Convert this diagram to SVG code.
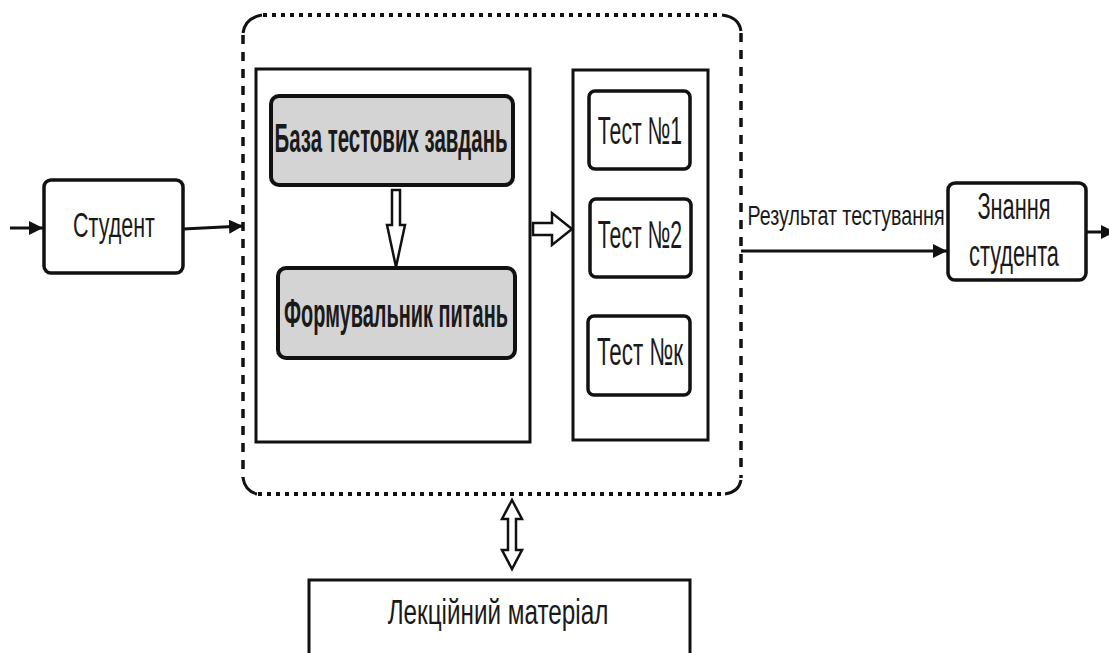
<svg xmlns="http://www.w3.org/2000/svg" width="1109" height="653" viewBox="0 0 1109 653">
<style>
.box{fill:#fff;stroke:#111;stroke-width:3}
.gbox{fill:#d4d4d4;stroke:#111;stroke-width:4}
.rbox{fill:#fff;stroke:#111;stroke-width:3.5}
.t{font-family:"Liberation Sans",Arial,sans-serif;fill:#1a1a1a;text-anchor:middle}
.b{font-weight:bold}
.ln{stroke:#111;stroke-width:3;fill:none}
.hollow{fill:#fff;stroke:#111;stroke-width:2.5;stroke-linejoin:miter}
.dot{stroke:#111;stroke-width:4;fill:none;stroke-dasharray:4 5}
.dash{stroke:#111;stroke-width:3.5;fill:none;stroke-dasharray:9 8}
</style>
<defs>
<marker id="ah" viewBox="0 0 10 10" refX="10" refY="5" markerWidth="14" markerHeight="14" markerUnits="userSpaceOnUse" orient="auto">
<path d="M0,0 L10,5 L0,10 z" fill="#111"/>
</marker>
</defs>

<g id="system-boundary">
<path class="dot" d="M263,15 H722"/>
<path class="dot" d="M258,494 H724"/>
<path class="dash" d="M243,35 V478"/>
<path class="dash" d="M741,33 V478"/>
<path class="ln" d="M243,33 Q245,18 262,15"/>
<path class="ln" d="M722,15 Q739,17 741,31"/>
<path class="ln" d="M243,478 Q245,491 257,494"/>
<path class="ln" d="M741,480 Q739,492 725,494"/>
</g>

<g id="generator-panel">
<rect class="box" x="256" y="69" width="274" height="373"/>
</g>
<g id="tests-panel">
<rect class="box" x="573" y="70" width="135" height="370"/>
</g>

<g id="student">
<rect class="rbox" x="44" y="180" width="139" height="93" rx="7"/>
<text class="t" transform="translate(114,237) scale(0.62,1)" font-size="35" textLength="132" lengthAdjust="spacingAndGlyphs">Студент</text>
</g>

<g id="task-base">
<rect class="gbox" x="271" y="96" width="242" height="89" rx="8"/>
<text class="t b" transform="translate(391,152) scale(0.62,1)" font-size="40" textLength="376" lengthAdjust="spacingAndGlyphs">База тестових завдань</text>
</g>

<g id="question-former">
<rect class="gbox" x="278" y="268" width="237" height="90" rx="8"/>
<text class="t b" transform="translate(396,327) scale(0.62,1)" font-size="40" textLength="361" lengthAdjust="spacingAndGlyphs">Формувальник питань</text>
</g>

<g id="test1">
<rect class="rbox" x="589" y="91" width="101" height="78" rx="6"/>
<text class="t" transform="translate(640,144) scale(0.62,1)" font-size="39" textLength="136" lengthAdjust="spacingAndGlyphs">Тест №1</text>
</g>
<g id="test2">
<rect class="rbox" x="590" y="199" width="101" height="78" rx="6"/>
<text class="t" transform="translate(640,248) scale(0.62,1)" font-size="39" textLength="136" lengthAdjust="spacingAndGlyphs">Тест №2</text>
</g>
<g id="testk">
<rect class="rbox" x="588" y="316" width="102" height="79" rx="6"/>
<text class="t" transform="translate(640,365) scale(0.62,1)" font-size="39" textLength="139" lengthAdjust="spacingAndGlyphs">Тест №к</text>
</g>

<g id="student-knowledge">
<rect class="rbox" x="948" y="183" width="138" height="97" rx="7"/>
<text class="t" transform="translate(1014,219) scale(0.62,1)" font-size="36" textLength="118" lengthAdjust="spacingAndGlyphs">Знання</text>
<text class="t" transform="translate(1014,266) scale(0.62,1)" font-size="36" textLength="145" lengthAdjust="spacingAndGlyphs">студента</text>
</g>

<g id="lecture-material">
<rect class="box" x="309" y="580" width="381" height="90"/>
<text class="t" transform="translate(498,624) scale(0.62,1)" font-size="35" textLength="356" lengthAdjust="spacingAndGlyphs">Лекційний матеріал</text>
</g>

<g id="connectors">
<line class="ln" x1="10" y1="228" x2="43" y2="228" marker-end="url(#ah)"/>
<line class="ln" x1="183" y1="229" x2="243" y2="226" marker-end="url(#ah)"/>
<path class="hollow" d="M392,190 H400 V225 H405 L396,267 L387,225 H392 Z"/>
<path class="hollow" d="M533,223 H552 V213 L572,229 L552,245 V235 H533 Z"/>
<line class="ln" x1="741" y1="251" x2="947" y2="251" marker-end="url(#ah)"/>
<text class="t" transform="translate(846,225) scale(0.62,1)" font-size="28" textLength="318" lengthAdjust="spacingAndGlyphs">Результат тестування</text>
<line class="ln" x1="1086" y1="232" x2="1115" y2="232" marker-end="url(#ah)"/>
<path class="hollow" d="M512,500 L522,519 H516 V550 H522 L512,569 L502,550 H508 V519 H502 Z"/>
</g>
</svg>
